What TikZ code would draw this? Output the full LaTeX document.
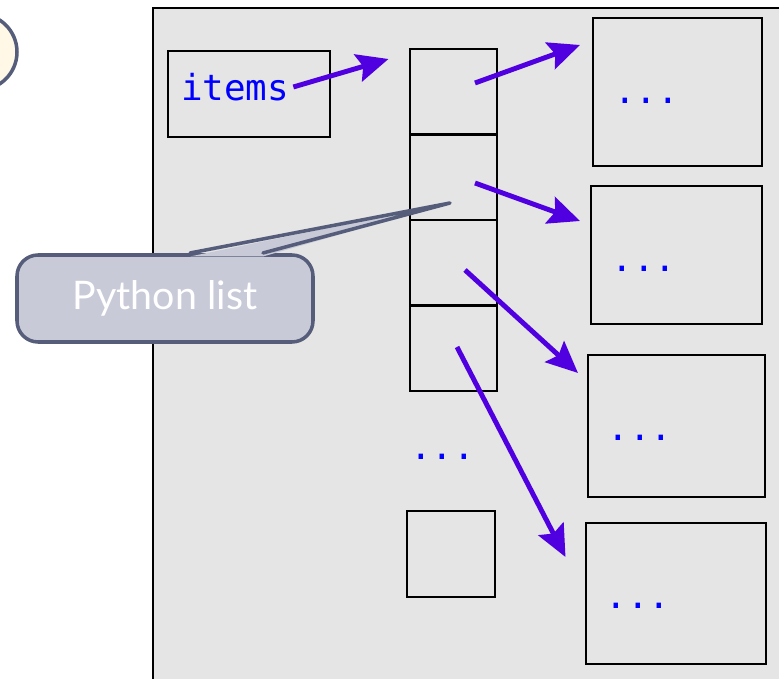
\documentclass[tikz,border=0pt]{standalone}
\usepackage{fontspec}
\setmonofont{DejaVu Sans Mono}
\newfontfamily\notefont{Lato}
\usetikzlibrary{arrows.meta}
\definecolor{panelgray}{HTML}{E5E5E5}
\definecolor{refblue}{HTML}{5000E0}
\definecolor{slate}{HTML}{555D7A}
\definecolor{notefill}{HTML}{C8CAD8}
\definecolor{cream}{HTML}{FFF8E6}

\begin{document}
\begin{tikzpicture}[cell/.style={rectangle,draw,line width=0.8pt,minimum width=0.87cm,minimum height=0.855cm,inner sep=0pt},
	obj/.style={rectangle,draw,line width=0.8pt,inner sep=0pt},
	dots/.style={anchor=base,inner sep=0pt,text=blue,font=\ttfamily\fontsize{10.2}{12}\selectfont},
	ref/.style={-{Stealth[length=9pt,width=8pt,inset=1.5pt]},color=refblue,line width=1.4pt}]
	\useasboundingbox (0,0) rectangle (7.79,-6.79);
	\clip (0,0) rectangle (7.79,-6.79);
	% frame and bubble
	\draw[line width=0.6pt,fill=panelgray] (1.53,-0.08) rectangle (8.2,-7.2);
	\node[circle,draw=slate,line width=1pt,fill=cream,minimum size=0.76cm] (bubble) at (-0.21,-0.52) {};
	% variable
	\node[obj,minimum width=1.62cm,minimum height=0.86cm] (var) at (2.49,-0.94) {};
	\node[anchor=west,inner sep=1pt,text=blue,font=\ttfamily\fontsize{10.2}{12}\selectfont] (itemslbl) at (1.77,-0.87) {items};
	% the list
	\node[cell] (L1) at (4.535,-0.9175) {};
	\node[cell] (L2) at (4.535,-1.7725) {};
	\node[cell] (L3) at (4.535,-2.6275) {};
	\node[cell] (L4) at (4.535,-3.4825) {};
	\node[dots] (Ldots) at (4.425,-4.60) {...};
	\node[cell,minimum width=0.88cm,minimum height=0.86cm] (Ln) at (4.51,-5.54) {};
	% objects
	\node[obj,minimum width=1.69cm,minimum height=1.48cm] (O1) at (6.775,-0.92) {};
	\node[obj,minimum width=1.71cm,minimum height=1.38cm] (O2) at (6.765,-2.55) {};
	\node[obj,minimum width=1.77cm,minimum height=1.42cm] (O3) at (6.765,-4.26) {};
	\node[obj,minimum width=1.80cm,minimum height=1.41cm] (O4) at (6.76,-5.935) {};
	\node[dots] (O1dots) at (6.465,-1.04) {...};
	\node[dots] (O2dots) at (6.44,-2.72) {...};
	\node[dots] (O3dots) at (6.40,-4.41) {...};
	\node[dots] (O4dots) at (6.38,-6.09) {...};
	% references
	\coordinate (t0) at (3.885,-0.59);
	\coordinate (s1) at (4.75,-0.83);
	\coordinate (t1) at (5.80,-0.45);
	\coordinate (s2) at (4.75,-1.83);
	\coordinate (t2) at (5.80,-2.21);
	\coordinate (s3) at (4.65,-2.70);
	\coordinate (t3) at (5.78,-3.73);
	\coordinate (s4) at (4.57,-3.47);
	\coordinate (t4) at (5.655,-5.57);
	\draw[ref] (itemslbl.east) -- (t0);
	\draw[ref] (s1) -- (t1);
	\draw[ref] (s2) -- (t2);
	\draw[ref] (s3) -- (t3);
	\draw[ref] (s4) -- (t4);
	% note
	\node[rectangle,rounded corners=6pt,draw=slate,line width=1pt,fill=notefill,minimum width=2.96cm,minimum height=0.87cm,text=white,font=\notefont\fontsize{11.2}{13}\selectfont] (note) at (1.65,-2.985) {Python list};
	\coordinate (tip) at (4.50,-2.03);
	\fill[notefill] (1.90,-2.565) -- (tip) -- (2.63,-2.565) -- cycle;
	\draw[slate,line width=1pt,line join=round,line cap=round] (1.90,-2.53) -- (tip) -- (2.63,-2.53);
\end{tikzpicture}
\end{document}
